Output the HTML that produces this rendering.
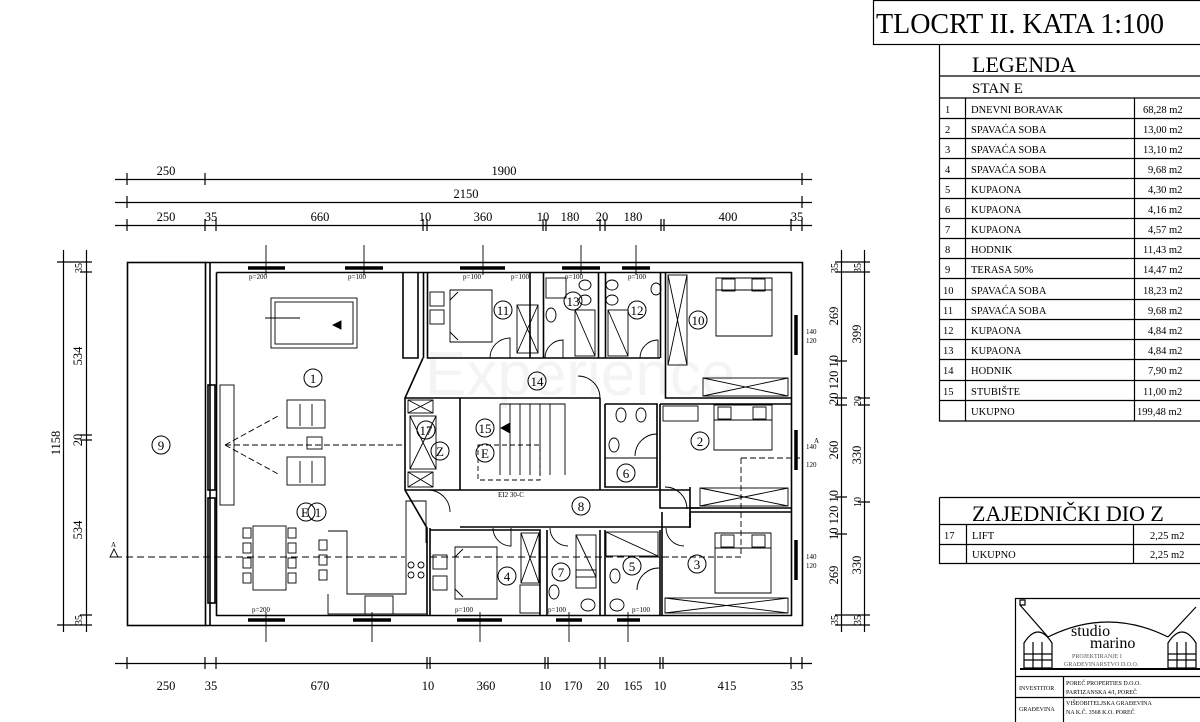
<!DOCTYPE html>
<html><head><meta charset="utf-8"><style>
html,body{margin:0;padding:0;background:#fff;}
svg{display:block;font-family:"Liberation Serif",serif;}
</style></head><body>
<svg width="1200" height="722" viewBox="0 0 1200 722" xmlns="http://www.w3.org/2000/svg">
<rect width="1200" height="722" fill="#fff"/>
<g stroke="#000" fill="none" stroke-width="1.2">
<rect x="873.5" y="0.5" width="330" height="44"/>
<path d="M939.5 44V421H1204M939.5 76H1204M939.5 98H1204M965.5 98V421M1134.5 98V421"/>
<path d="M939.5 118.5H1204M939.5 138.5H1204M939.5 158.5H1204M939.5 178.5H1204M939.5 198.5H1204M939.5 218.5H1204M939.5 238.5H1204M939.5 258.5H1204M939.5 278.5H1204M939.5 299.5H1204M939.5 319.5H1204M939.5 339.5H1204M939.5 359.5H1204M939.5 380.5H1204M939.5 400.5H1204"/>
<path d="M939.5 497.5H1204M939.5 497.5V563.5H1204M939.5 524.5H1204M939.5 544.5H1204M966.5 524V563M1133.5 524V563"/>
<path d="M1015.5 722V598.5H1204M1015.5 676.5H1204M1015.5 697.5H1204M1063.5 676V722"/>
<path d="M1020 600h5v5h-5zM1020 605l28 32M1048 637q60 -30 120 0M1168 637l28 -30" />
<path d="M1024 668v-25q14 -22 28 0v25zM1024 654h28M1033 642v26M1042 642v26M1024 660h28"/>
<path d="M1168 668v-25q14 -22 28 0v25zM1168 654h28M1177 642v26M1186 642v26M1168 660h28"/>
<path d="M1020 669H1200" stroke-width="2"/>
</g>
<g font-size="28" fill="#000"><text x="876" y="33">TLOCRT II. KATA 1:100</text></g>
<g font-size="22" fill="#000"><text x="972" y="72">LEGENDA</text><text x="972" y="521">ZAJEDNIČKI DIO Z</text></g>
<g font-size="15" fill="#000"><text x="972" y="93">STAN E</text></g>
<g font-size="10.5" fill="#000">
<text x="945" y="113">1</text><text x="971" y="113">DNEVNI BORAVAK</text><text x="1143" y="113">68,28 m2</text>
<text x="945" y="133">2</text><text x="971" y="133">SPAVAĆA SOBA</text><text x="1143" y="133">13,00 m2</text>
<text x="945" y="153">3</text><text x="971" y="153">SPAVAĆA SOBA</text><text x="1143" y="153">13,10 m2</text>
<text x="945" y="173">4</text><text x="971" y="173">SPAVAĆA SOBA</text><text x="1148" y="173">9,68 m2</text>
<text x="945" y="193">5</text><text x="971" y="193">KUPAONA</text><text x="1148" y="193">4,30 m2</text>
<text x="945" y="213">6</text><text x="971" y="213">KUPAONA</text><text x="1148" y="213">4,16 m2</text>
<text x="945" y="233">7</text><text x="971" y="233">KUPAONA</text><text x="1148" y="233">4,57 m2</text>
<text x="945" y="253">8</text><text x="971" y="253">HODNIK</text><text x="1143" y="253">11,43 m2</text>
<text x="945" y="273">9</text><text x="971" y="273">TERASA 50%</text><text x="1143" y="273">14,47 m2</text>
<text x="943" y="294">10</text><text x="971" y="294">SPAVAĆA SOBA</text><text x="1143" y="294">18,23 m2</text>
<text x="943" y="314">11</text><text x="971" y="314">SPAVAĆA SOBA</text><text x="1148" y="314">9,68 m2</text>
<text x="943" y="334">12</text><text x="971" y="334">KUPAONA</text><text x="1148" y="334">4,84 m2</text>
<text x="943" y="354">13</text><text x="971" y="354">KUPAONA</text><text x="1148" y="354">4,84 m2</text>
<text x="943" y="374">14</text><text x="971" y="374">HODNIK</text><text x="1148" y="374">7,90 m2</text>
<text x="943" y="395">15</text><text x="971" y="395">STUBIŠTE</text><text x="1143" y="395">11,00 m2</text>
<text x="971" y="415">UKUPNO</text><text x="1137" y="415">199,48 m2</text>
<text x="944" y="539">17</text><text x="972" y="539">LIFT</text><text x="1150" y="539">2,25 m2</text>
<text x="972" y="558">UKUPNO</text><text x="1150" y="558">2,25 m2</text>
</g>
<g fill="#000">
<text x="1071" y="636" font-size="16">studio</text><text x="1090" y="648" font-size="16">marino</text>
<text x="1072" y="658" font-size="6" fill="#555">PROJEKTIRANJE I</text>
<text x="1064" y="666" font-size="6" fill="#555">GRAĐEVINARSTVO D.O.O.</text>
<text x="1019" y="690" font-size="6">INVESTITOR</text>
<text x="1066" y="685" font-size="6">POREČ PROPERTIES D.O.O.</text>
<text x="1066" y="694" font-size="6">PARTIZANSKA 4/I, POREČ</text>
<text x="1019" y="711" font-size="6">GRAĐEVINA</text>
<text x="1066" y="705" font-size="6">VIŠEOBITELJSKA GRAĐEVINA</text>
<text x="1066" y="714" font-size="6">NA K.Č. 3568 K.O. POREČ</text>
</g>

<text x="425" y="395" font-family="Liberation Sans,sans-serif" font-size="62" fill="#f4f4f4">Experience</text>

<g stroke="#000" stroke-width="1.2" fill="none">
<path d="M115 179.5H812M115 202.5H812M115 225.5H812M115 663.5H812"/>
<path d="M127 173v12M205 173v12M802 173v12M127 196v12M802 196v12"/>
<path d="M127 219v12M205 219v12M216 219v12M423 219v12M427 219v12M543 219v12M546 219v12M600 219v12M605 219v12M661 219v12M664 219v12M791 219v12M802 219v12"/>
<path d="M127 657v12M205 657v12M216 657v12M427 657v12M430 657v12M545 657v12M548 657v12M600 657v12M605 657v12M660 657v12M663 657v12M791 657v12M802 657v12"/>
<path d="M63.5 250V632M86.5 250V632M57 262h35M57 625h35M80 272h12M80 435h12M80 440h12M80 615h12"/>
<path d="M841.5 250V632M864.5 250V632M835 262h35M835 272h35M835 615h35M835 625h35M835 361h12M835 398h12M858 398h12M835 405h12M858 405h12M835 497h12M858 502h12M835 534h12"/>
</g>
<g font-size="12.5" fill="#000" text-anchor="middle">
<text x="166" y="175">250</text><text x="504" y="175">1900</text><text x="466" y="198">2150</text>
<text x="166" y="221">250</text><text x="211" y="221">35</text><text x="320" y="221">660</text><text x="425" y="221">10</text><text x="483" y="221">360</text><text x="543" y="221">10</text><text x="570" y="221">180</text><text x="602" y="221">20</text><text x="633" y="221">180</text><text x="728" y="221">400</text><text x="797" y="221">35</text>
<text x="166" y="690">250</text><text x="211" y="690">35</text><text x="320" y="690">670</text><text x="428" y="690">10</text><text x="486" y="690">360</text><text x="545" y="690">10</text><text x="573" y="690">170</text><text x="603" y="690">20</text><text x="633" y="690">165</text><text x="660" y="690">10</text><text x="727" y="690">415</text><text x="797" y="690">35</text>
<text transform="translate(60 443) rotate(-90)">1158</text>
<text transform="translate(82 356) rotate(-90)">534</text>
<text transform="translate(82 530) rotate(-90)">534</text>
<text transform="translate(82 440) rotate(-90)">20</text>
<text transform="translate(82 268) rotate(-90)" font-size="10">35</text>
<text transform="translate(82 620) rotate(-90)" font-size="10">35</text>
<text transform="translate(838 316) rotate(-90)">269</text>
<text transform="translate(838 380) rotate(-90)">20 120 10</text>
<text transform="translate(838 450) rotate(-90)">260</text>
<text transform="translate(838 515) rotate(-90)">10 120 10</text>
<text transform="translate(838 575) rotate(-90)">269</text>
<text transform="translate(861 334) rotate(-90)">399</text>
<text transform="translate(861 455) rotate(-90)">330</text>
<text transform="translate(861 565) rotate(-90)">330</text>
<text transform="translate(861 401) rotate(-90)" font-size="10">20</text>
<text transform="translate(861 502) rotate(-90)" font-size="10">10</text>
<text transform="translate(838 268) rotate(-90)" font-size="10">35</text>
<text transform="translate(861 268) rotate(-90)" font-size="10">35</text>
<text transform="translate(838 620) rotate(-90)" font-size="10">35</text>
<text transform="translate(861 620) rotate(-90)" font-size="10">35</text>
</g>

<g stroke="#000" fill="none" stroke-width="1.6">
<rect x="127.5" y="262.5" width="78" height="363"/>
<path d="M205.5 262.5H802.5V625.5H205.5" />
<path d="M216.5 272.5H791.5V615.5H216.5V272.5" />
<path d="M210 262v363"/>
<rect x="208" y="385" width="7" height="105"/><rect x="208" y="498" width="7" height="105"/>
<path d="M423.5 272V358M427.5 272V358H530V272M427 358H660M543.5 272V358M598.5 272V358M605.5 272V358M660.5 272V358M665.5 272V398H791"/>
<path d="M423 358L405 398V490L427 528V615M430 528V615"/>
<path d="M405 398H600M405 490H460M460 398V490M600 398V490M605 404V487H657V404H605M660 404H791M660 404V508H791M690 487V528"/>
<path d="M460 490H690M460 527H690M690 508H700M690 527V512H791"/>
<path d="M430 530H540V615M547 530V615M600 530V615M605 530V615M660 530V615M662 512V615"/>
<path d="M403 272V358H418V272"/>
</g>
<g stroke="#000" fill="none" stroke-width="0.9">
<path d="M248 268h37M345 268h38M460 268h45M562 268h38M622 268h28" stroke-width="3.5"/>
<path d="M266 245v30M364 245v30M483 245v30M581 245v30M636 245v30M266 612v30M372 612v30M480 612v30M569 612v30M628 612v30"/>
<path d="M248 620h37M353 620h38M457 620h45M556 620h26M617 620h23" stroke-width="3.5"/>
<path d="M796 315v40M796 430v40M796 540v40" stroke-width="3.5"/>
<rect x="271" y="298" width="86" height="50"/><rect x="275" y="302" width="78" height="42"/>
<path d="M265 318h35"/><path d="M333 325l8-4v8z" fill="#000"/>
<rect x="287" y="400" width="38" height="28"/><path d="M300 404v22M312 404v22"/>
<rect x="287" y="457" width="38" height="28"/><path d="M300 461v22M312 461v22"/>
<rect x="220" y="385" width="14" height="120"/>
<path d="M225 445L280 415M225 445L280 475M225 445H405" stroke-dasharray="6 3"/>
<rect x="307" y="437" width="15" height="12"/>
<rect x="253" y="526" width="33" height="64"/>
<rect x="243" y="528" width="8" height="10"/><rect x="243" y="543" width="8" height="10"/><rect x="243" y="558" width="8" height="10"/><rect x="243" y="573" width="8" height="10"/>
<rect x="288" y="528" width="8" height="10"/><rect x="288" y="543" width="8" height="10"/><rect x="288" y="558" width="8" height="10"/><rect x="288" y="573" width="8" height="10"/>
<rect x="319" y="540" width="8" height="10"/><rect x="319" y="555" width="8" height="10"/><rect x="319" y="570" width="8" height="10"/>
<path d="M328 531h19v63h59v-93h20v42M328 594v20h98"/>
<rect x="365" y="596" width="28" height="18"/>
<circle cx="411" cy="565" r="3"/><circle cx="421" cy="565" r="3"/><circle cx="411" cy="575" r="3"/><circle cx="421" cy="575" r="3"/>
<rect x="430" y="292" width="14" height="14"/><rect x="430" y="310" width="14" height="14"/>
<path d="M450 290h42v52h-42zM450 300l8-8M450 332l8 8"/>
<rect x="517" y="305" width="21" height="48"/><path d="M517 305l21 48M538 305l-21 48"/>
<path d="M490 358a20 20 0 0 1 20 -20v20"/>
<rect x="546" y="278" width="20" height="20"/><ellipse cx="585" cy="285" rx="6" ry="5"/><ellipse cx="585" cy="300" rx="6" ry="5"/>
<rect x="575" y="310" width="20" height="46"/><path d="M575 310l20 46"/>
<ellipse cx="551" cy="315" rx="5" ry="7"/>
<ellipse cx="612" cy="285" rx="6" ry="5"/><ellipse cx="612" cy="300" rx="6" ry="5"/><ellipse cx="656" cy="289" rx="5" ry="6"/>
<rect x="608" y="310" width="20" height="46"/><path d="M608 310l20 46"/>
<path d="M545 358a18 18 0 0 1 18 -18v18M640 358a18 18 0 0 1 18 -18v18"/>
<rect x="668" y="275" width="19" height="90"/><path d="M668 275l19 90M687 275l-19 90"/>
<path d="M716 278h56v58h-56zM716 290h56"/><rect x="722" y="279" width="13" height="12"/><rect x="752" y="279" width="13" height="12"/>
<rect x="703" y="378" width="85" height="18"/><path d="M703 378l85 18M788 378l-85 18"/>
<path d="M600 398a22 22 0 0 0 -22 -22"/>
<rect x="408" y="400" width="25" height="13"/><path d="M408 400l25 13M433 400l-25 13"/>
<rect x="408" y="472" width="25" height="15"/><path d="M408 472l25 15M433 472l-25 15"/>
<rect x="410" y="416" width="26" height="53"/><path d="M410 416l26 53M436 416l-26 53"/>
<path d="M500 404V475M500 404h65V475M510 404v71M520 404v71M530 404v71M540 404v71M550 404v71"/>
<path d="M510 423l-9 5 9 5z" fill="#000"/>
<rect x="478" y="445" width="62" height="35" stroke-dasharray="5 3"/>
<ellipse cx="621" cy="415" rx="5" ry="7"/><ellipse cx="641" cy="415" rx="5" ry="7"/><ellipse cx="614" cy="445" rx="5" ry="7"/>
<path d="M605 458H657M635 456a22 22 0 0 1 22 -22"/>
<rect x="663" y="406" width="35" height="15"/>
<path d="M714 405h58v45h-58zM714 420h58"/><rect x="718" y="407" width="13" height="12"/><rect x="753" y="407" width="13" height="12"/>
<rect x="700" y="488" width="88" height="18"/><path d="M700 488l88 18M788 488l-88 18"/>
<path d="M665 487a22 22 0 0 1 22 22"/>
<path d="M741 458H800M741 458V557H640" stroke-dasharray="6 3"/>
<rect x="433" y="555" width="14" height="14"/><rect x="433" y="576" width="14" height="14"/>
<path d="M455 547h42v52h-42zM455 557l8-8M455 589l8 8"/>
<rect x="521" y="533" width="18" height="50"/><path d="M521 533l18 50M539 533l-18 50"/>
<rect x="520" y="585" width="20" height="28"/>
<ellipse cx="554" cy="592" rx="5" ry="7"/><rect x="576" y="570" width="20" height="18"/><ellipse cx="588" cy="605" rx="7" ry="6"/>
<rect x="576" y="535" width="20" height="42"/><path d="M576 535l20 42"/>
<rect x="606" y="532" width="52" height="24"/><path d="M606 532l52 24"/>
<ellipse cx="615" cy="576" rx="5" ry="7"/><ellipse cx="617" cy="605" rx="7" ry="6"/>
<path d="M637 590a22 22 0 0 1 22 -22"/>
<path d="M493 528a18 18 0 0 0 18 18v-18M550 528a18 18 0 0 0 18 18M666 528a18 18 0 0 0 18 18"/>
<path d="M715 533h56v60h-56zM715 548h56"/><rect x="721" y="535" width="13" height="12"/><rect x="752" y="535" width="13" height="12"/>
<rect x="665" y="598" width="123" height="15"/><path d="M665 598l123 15M788 598l-123 15"/>
<path d="M428 490a22 22 0 0 1 22 22"/>
<path d="M115 557H405M430 557H665" stroke-dasharray="7 4"/>
<path d="M110 557h8l-4 -8z"/>
</g>

<g stroke="#000" fill="none" stroke-width="1">
<circle cx="313" cy="378" r="9"/><circle cx="161" cy="445" r="9"/><circle cx="503" cy="310" r="9"/><circle cx="573" cy="301" r="9"/><circle cx="637" cy="310" r="9"/><circle cx="698" cy="320" r="9"/><circle cx="537" cy="381" r="9"/><circle cx="485" cy="428" r="9"/><circle cx="426" cy="430" r="9"/><circle cx="440" cy="451" r="9"/><circle cx="485" cy="453" r="9"/><circle cx="700" cy="441" r="9"/><circle cx="626" cy="473" r="9"/><circle cx="581" cy="506" r="9"/><circle cx="507" cy="576" r="9"/><circle cx="561" cy="572" r="9"/><circle cx="632" cy="566" r="9"/><circle cx="697" cy="564" r="9"/><circle cx="306" cy="512" r="9"/><circle cx="317" cy="512" r="9"/>
</g>
<g font-size="13" fill="#000" text-anchor="middle">
<text x="313" y="383">1</text><text x="161" y="450">9</text><text x="503" y="315">11</text><text x="573" y="306">13</text><text x="637" y="315">12</text><text x="698" y="325">10</text><text x="537" y="386">14</text><text x="485" y="433">15</text><text x="426" y="435">17</text><text x="440" y="456">Z</text><text x="485" y="458">E</text><text x="700" y="446">2</text><text x="626" y="478">6</text><text x="581" y="511">8</text><text x="507" y="581">4</text><text x="561" y="577">7</text><text x="632" y="571">5</text><text x="697" y="569">3</text><text x="305" y="517">E</text><text x="318" y="517">1</text>
</g>
<g font-size="7" fill="#000">
<text x="498" y="497">EI2 30-C</text>
<text x="249" y="279">p=200</text><text x="348" y="279">p=100</text><text x="463" y="279">p=100</text><text x="511" y="279">p=100</text><text x="565" y="279">p=100</text><text x="628" y="279">p=100</text>
<text x="252" y="612">p=200</text><text x="455" y="612">p=100</text><text x="548" y="612">p=100</text><text x="632" y="612">p=100</text>
<text x="806" y="334">140</text><text x="806" y="343">120</text><text x="806" y="449">140</text><text x="806" y="467">120</text><text x="806" y="559">140</text><text x="806" y="568">120</text>
<text x="111" y="547">A</text><text x="814" y="443">A</text>
</g>
</svg>
</body></html>
